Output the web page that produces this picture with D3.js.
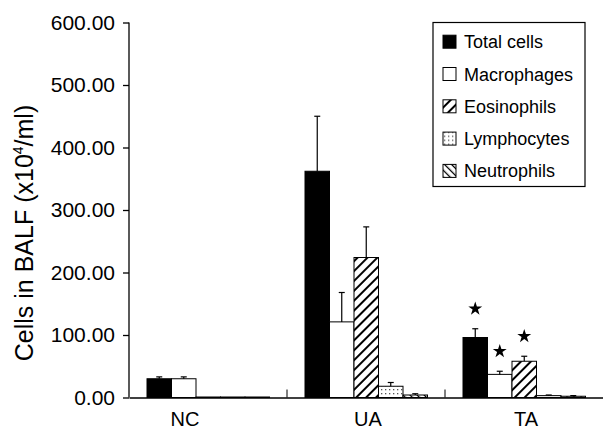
<!DOCTYPE html>
<html>
<head>
<meta charset="utf-8">
<script src="https://cdn.jsdelivr.net/npm/d3@7"></script>
<style>
  body { margin: 0; background: #fff; }
  text { font-family: "Liberation Sans", Arial, sans-serif; }
</style>
</head>
<body>
<div id="chart"></div>
<script>
// data
var groups = ['NC', 'UA', 'TA'];
var series = ['Total cells', 'Macrophages', 'Eosinophils', 'Lymphocytes', 'Neutrophils'];

var totalCells = [30, 362, 96];
var macrophages = [30, 121, 37];
var eosinophils = [0.8, 224, 58];
var lymphocytes = [0.8, 18, 3];
var neutrophils = [0.8, 4, 2];

var totalErr = [3, 88, 14];
var macroErr = [3, 47, 5];
var eosErr = [0, 49, 8];
var lymphErr = [0, 6, 1];
var neutroErr = [0, 2, 1];

// significance markers (group, series)
var starred = [['TA', 'Total cells'], ['TA', 'Macrophages'], ['TA', 'Eosinophils']];

var yTicks = [0, 100, 200, 300, 400, 500, 600];

var values = [totalCells, macrophages, eosinophils, lymphocytes, neutrophils];
var errors = [totalErr, macroErr, eosErr, lymphErr, neutroErr];

var width = 603, height = 431;
var margin = { top: 22.5, left: 129, right: 0, bottom: 33.5 };

var svg = d3.select('#chart')
  .append('svg')
  .attr('width', width)
  .attr('height', height);

var defs = svg.append('defs');

// hatch "/" for eosinophils
var p1 = defs.append('pattern')
  .attr('id', 'hatchUp')
  .attr('patternUnits', 'userSpaceOnUse')
  .attr('width', 7).attr('height', 7)
  .attr('patternTransform', 'rotate(45)');
p1.append('rect').attr('width', 7).attr('height', 7).attr('fill', '#fff');
p1.append('line').attr('x1', 0).attr('y1', 0).attr('x2', 0).attr('y2', 7)
  .attr('stroke', '#000').attr('stroke-width', 4);

// hatch "\" for neutrophils
var p2 = defs.append('pattern')
  .attr('id', 'hatchDown')
  .attr('patternUnits', 'userSpaceOnUse')
  .attr('width', 5).attr('height', 5)
  .attr('patternTransform', 'rotate(-45)');
p2.append('rect').attr('width', 5).attr('height', 5).attr('fill', '#fff');
p2.append('line').attr('x1', 0).attr('y1', 0).attr('x2', 0).attr('y2', 5)
  .attr('stroke', '#000').attr('stroke-width', 2.5);

// dots for lymphocytes
var p3 = defs.append('pattern')
  .attr('id', 'dots')
  .attr('patternUnits', 'userSpaceOnUse')
  .attr('width', 4).attr('height', 4);
p3.append('rect').attr('width', 4).attr('height', 4).attr('fill', '#fff');
p3.append('rect').attr('x', 1).attr('y', 1).attr('width', 1.3).attr('height', 1.3).attr('fill', '#555');

var fills = ['#000', '#fff', 'url(#hatchUp)', 'url(#dots)', 'url(#hatchDown)'];

var x0 = d3.scaleBand().domain(groups).range([margin.left, width - margin.right]);
var x1 = d3.scaleBand().domain(series).range([18, 140.5]);
var y = d3.scaleLinear().domain([0, 600]).range([height - margin.bottom, margin.top]);

var rows = [];
groups.forEach(function (g, gi) {
  series.forEach(function (s, si) {
    rows.push({ group: g, series: s, si: si, value: values[si][gi], err: errors[si][gi] });
  });
});

// bars
svg.append('g').selectAll('rect')
  .data(rows)
  .enter()
  .append('rect')
  .attr('x', function (d) { return x0(d.group) + x1(d.series); })
  .attr('y', function (d) { return y(d.value); })
  .attr('width', x1.bandwidth())
  .attr('height', function (d) { return y(0) - y(d.value); })
  .attr('fill', function (d) { return fills[d.si]; })
  .attr('stroke', '#000')
  .attr('stroke-width', 1);

// error bars (upper only)
var eb = svg.append('g').selectAll('g')
  .data(rows.filter(function (d) { return d.err > 0; }))
  .enter()
  .append('g')
  .attr('stroke', '#000')
  .attr('stroke-width', 1.2);
eb.append('line')
  .attr('x1', function (d) { return x0(d.group) + x1(d.series) + x1.bandwidth() / 2; })
  .attr('x2', function (d) { return x0(d.group) + x1(d.series) + x1.bandwidth() / 2; })
  .attr('y1', function (d) { return y(d.value); })
  .attr('y2', function (d) { return y(d.value + d.err); });
eb.append('line')
  .attr('x1', function (d) { return x0(d.group) + x1(d.series) + x1.bandwidth() / 2 - 3; })
  .attr('x2', function (d) { return x0(d.group) + x1(d.series) + x1.bandwidth() / 2 + 3; })
  .attr('y1', function (d) { return y(d.value + d.err); })
  .attr('y2', function (d) { return y(d.value + d.err); });

// asterisks
svg.append('g').selectAll('path')
  .data(starred.map(function (p) {
    return rows.find(function (r) { return r.group === p[0] && r.series === p[1]; });
  }))
  .enter()
  .append('path')
  .attr('d', d3.symbol().type(d3.symbolStar).size(60))
  .attr('transform', function (d) {
    return 'translate(' + (x0(d.group) + x1(d.series) + x1.bandwidth() / 2) + ',' + (y(d.value + d.err) - 20) + ')';
  })
  .attr('fill', '#000');

// y axis
var yAxis = svg.append('g')
  .attr('transform', 'translate(' + margin.left + ',0)')
  .call(d3.axisLeft(y).tickValues(yTicks).tickFormat(d3.format('.2f')).tickSize(6).tickPadding(8));
yAxis.selectAll('text').attr('font-size', 21).attr('fill', '#000');
yAxis.selectAll('line, path').attr('stroke', '#000').attr('stroke-width', 1.3);
yAxis.select('.domain').attr('d', 'M0,' + y(600) + 'V' + y(0));

// x axis
var xAxis = svg.append('g')
  .attr('transform', 'translate(0,' + y(0) + ')')
  .call(d3.axisBottom(x0).tickSize(0).tickPadding(14));
xAxis.selectAll('text').attr('font-size', 20).attr('fill', '#000')
  .attr('dx', function (d, i) { return i === 0 ? -23 : 2; });
xAxis.select('.domain').attr('stroke', '#000').attr('stroke-width', 1.5);

// small ticks between groups
svg.append('g').selectAll('line')
  .data(groups.slice(1))
  .enter()
  .append('line')
  .attr('x1', function (d) { return x0(d); })
  .attr('x2', function (d) { return x0(d); })
  .attr('y1', y(0))
  .attr('y2', y(0) - 8)
  .attr('stroke', '#000')
  .attr('stroke-width', 1);

// y title
var title = svg.append('text')
  .attr('transform', 'rotate(-90)')
  .attr('x', -233)
  .attr('y', 33)
  .attr('text-anchor', 'middle')
  .attr('font-size', 25)
  .attr('fill', '#000');
title.append('tspan').text('Cells in BALF (x10');
title.append('tspan').attr('font-size', 14).attr('dy', -10).text('4');
title.append('tspan').attr('dy', 10).text('/ml)');

// legend
var legend = svg.append('g');
legend.append('rect')
  .attr('x', 433).attr('y', 22.5)
  .attr('width', 152).attr('height', 164)
  .attr('fill', '#fff')
  .attr('stroke', '#000')
  .attr('stroke-width', 1.2);
var li = legend.selectAll('g.item')
  .data(series)
  .enter()
  .append('g')
  .attr('class', 'item')
  .attr('transform', function (d, i) { return 'translate(443,' + (41.7 + i * 32.3) + ')'; });
li.append('rect')
  .attr('x', 0).attr('y', -6.5)
  .attr('width', 13).attr('height', 13)
  .attr('fill', function (d, i) { return fills[i]; })
  .attr('stroke', '#000')
  .attr('stroke-width', 1);
li.append('text')
  .attr('x', 21)
  .attr('y', 6.5)
  .attr('font-size', 18)
  .attr('fill', '#000')
  .text(function (d) { return d; });
</script>
</body>
</html>
